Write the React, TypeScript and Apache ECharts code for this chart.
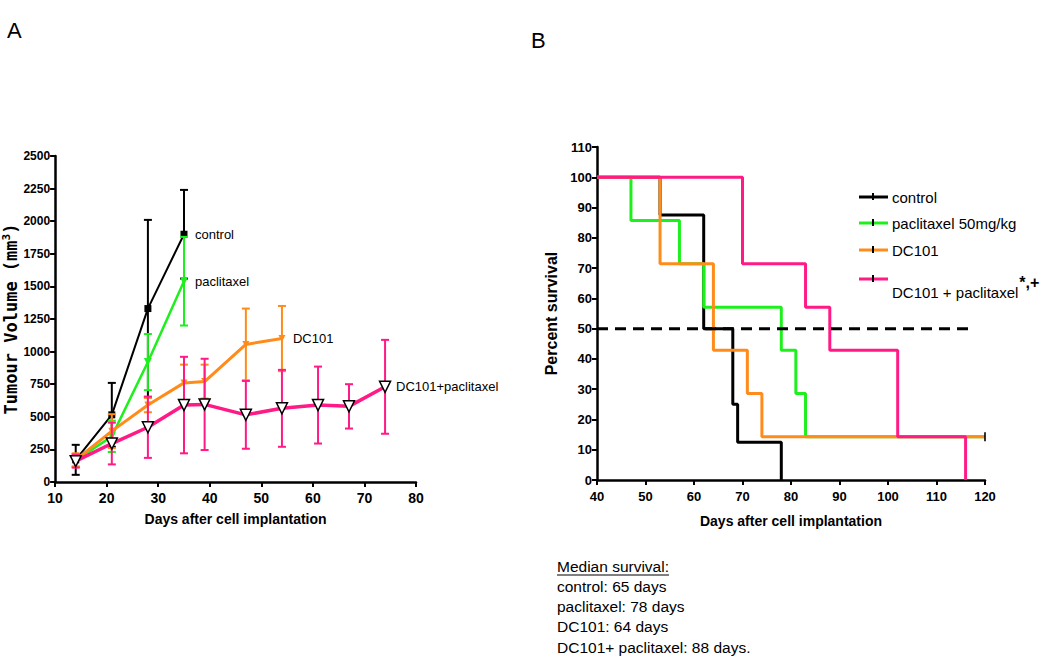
import React, { useEffect, useRef } from "react";
import * as echarts from "echarts";

// ---------- Panel A: tumour volume ----------
const controlDays = [14, 21, 28, 35];
const controlMean = [170, 515, 1330, 1900];
const controlSem = [115, 245, 680, 340];

const pacliDays = [14, 21, 28, 35];
const pacliMean = [165, 350, 920, 1540];
const pacliSem = [50, 120, 215, 340];

const dc101Days = [14, 21, 28, 35, 39, 47, 54];
const dc101Mean = [170, 390, 590, 760, 770, 1055, 1100];
const dc101Sem = [50, 130, 55, 140, 130, 275, 250];

const comboDays = [14, 21, 28, 35, 39, 47, 54, 61, 67, 74];
const comboMean = [160, 295, 420, 590, 595, 515, 565, 590, 580, 730];
const comboSem = [50, 160, 235, 370, 350, 260, 295, 295, 170, 360];

// ---------- Panel B: survival (Kaplan-Meier steps) ----------
const survControl = [[40, 100], [53, 87.5], [62, 50], [68, 25], [69, 12.5], [78, 0]];
const survPacli = [[40, 100], [47, 85.7], [57, 71.4], [62, 57.1], [78, 42.9], [81, 28.6], [83, 14.3], [120, 14.3]];
const survDc101 = [[40, 100], [53, 71.4], [64, 42.9], [71, 28.6], [74, 14.3], [120, 14.3]];
const survCombo = [[40, 100], [70, 71.4], [83, 57.1], [88, 42.9], [102, 14.3], [116, 0]];
const censored = [[120, 14.3]];
const medianLine = [[40, 50], [117, 50]];

const legendNames = ["control", "paclitaxel 50mg/kg", "DC101", "DC101 + paclitaxel"];
const legendSup = "*,+";
const medianTitle = "Median survival:";
const medianLines = [
  "control: 65 days",
  "paclitaxel: 78 days",
  "DC101: 64 days",
  "DC101+ paclitaxel: 88 days.",
];

const BLACK = "#000000";
const GREEN = "#1ef01e";
const ORANGE = "#ff8c1a";
const PINK = "#ff1a85";
const FONT = "Arial, 'Liberation Sans', Helvetica, sans-serif";

function measure(text: string, font: string): number {
  const c = document.createElement("canvas").getContext("2d");
  if (!c) return text.length * 8;
  c.font = font;
  return c.measureText(text).width;
}

function errSeries(days: number[], mean: number[], sem: number[], color: string, z: number) {
  return {
    type: "custom",
    xAxisIndex: 0,
    yAxisIndex: 0,
    z,
    silent: true,
    data: days.map((d, i) => [d, mean[i], sem[i]]),
    encode: { x: 0, y: 1 },
    renderItem: (_p: any, api: any) => {
      const x = api.value(0);
      const m = api.value(1);
      const s = api.value(2);
      const top = api.coord([x, m + s]);
      const bot = api.coord([x, Math.max(0, m - s)]);
      const hw = 4;
      const st = { stroke: color, lineWidth: 2 };
      return {
        type: "group",
        children: [
          { type: "line", shape: { x1: top[0], y1: top[1], x2: bot[0], y2: bot[1] }, style: st },
          { type: "line", shape: { x1: top[0] - hw, y1: top[1], x2: top[0] + hw, y2: top[1] }, style: st },
          { type: "line", shape: { x1: bot[0] - hw, y1: bot[1], x2: bot[0] + hw, y2: bot[1] }, style: st },
        ],
      };
    },
  };
}

function meanSeries(
  name: string, days: number[], mean: number[], color: string, width: number,
  symbol: string, size: number, rotate: number, fill: string, border: string, z: number
) {
  return {
    type: "line",
    name,
    xAxisIndex: 0,
    yAxisIndex: 0,
    z,
    data: days.map((d, i) => [d, mean[i]]),
    symbol,
    symbolSize: size,
    symbolRotate: rotate,
    showAllSymbol: true,
    lineStyle: { color, width },
    itemStyle: { color: fill, borderColor: border, borderWidth: border === fill ? 0 : 1.5 },
    endLabel: {
      show: true,
      formatter: name,
      distance: 11,
      color: "#000",
      fontSize: 13,
      fontFamily: FONT,
    },
  };
}

function survSeries(name: string, data: number[][], color: string, z: number) {
  return {
    type: "line",
    name,
    xAxisIndex: 1,
    yAxisIndex: 1,
    z,
    step: "end",
    symbol: "none",
    data,
    lineStyle: { color, width: 3 },
  };
}

const axisCommon = {
  axisLine: { show: true, lineStyle: { color: "#000", width: 2.5 } },
  axisTick: { show: true, inside: false, length: 5, lineStyle: { color: "#000", width: 2 } },
  splitLine: { show: false },
};

const plain = (v: number) => String(v);

export default function App() {
  const ref = useRef<HTMLDivElement>(null);
  useEffect(() => {
    if (!ref.current) return;
    const chart = echarts.init(ref.current, undefined, { renderer: "svg" });

    const legendFont = `15px ${FONT}`;
    const legendYs = [197, 223, 250, 279];
    const legendColors = [BLACK, GREEN, ORANGE, PINK];
    const legendGraphics: any[] = [];
    legendNames.forEach((n, i) => {
      const y = legendYs[i];
      legendGraphics.push({
        type: "line", shape: { x1: 859, y1: y, x2: 888, y2: y },
        style: { stroke: legendColors[i], lineWidth: 3 },
      });
      legendGraphics.push({
        type: "line", shape: { x1: 873, y1: y - 4, x2: 873, y2: y + 3 },
        style: { stroke: "#000", lineWidth: 2 },
      });
      legendGraphics.push({
        type: "text", x: 892, y: i === 3 ? 292 : y,
        style: { text: n, font: legendFont, fill: "#000", textVerticalAlign: "middle", textAlign: "left" },
      });
    });
    const lastW = measure(legendNames[3], legendFont);
    legendGraphics.push({
      type: "text", x: 892 + lastW + 1, y: 282,
      style: { text: legendSup, font: `bold 16px ${FONT}`, fill: "#000", textVerticalAlign: "middle", textAlign: "left" },
    });

    const medFont = `15.5px ${FONT}`;
    const titleW = measure(medianTitle, medFont);
    const medianGraphics: any[] = [
      {
        type: "text", x: 557, y: 566,
        style: { text: medianTitle, font: medFont, fill: "#000", textVerticalAlign: "middle" },
      },
      { type: "line", shape: { x1: 557, y1: 575, x2: 557 + titleW, y2: 575 }, style: { stroke: "#000", lineWidth: 1.2 } },
      ...medianLines.map((t, i) => ({
        type: "text", x: 557, y: 586.5 + i * 20.2,
        style: { text: t, font: medFont, fill: "#000", textVerticalAlign: "middle" },
      })),
    ];

    chart.setOption({
      animation: false,
      backgroundColor: "#fff",
      textStyle: { fontFamily: FONT },
      grid: [
        { left: 53, top: 156, width: 363, height: 326 },
        { left: 597, top: 147, width: 388, height: 333 },
      ],
      xAxis: [
        {
          type: "value", gridIndex: 0, min: 10, max: 80, interval: 10,
          ...axisCommon,
          axisLabel: { color: "#000", fontWeight: "bold", fontSize: 14, margin: 9, formatter: plain },
          name: "Days after cell implantation", nameLocation: "middle", nameGap: 30,
          nameTextStyle: { color: "#000", fontWeight: "bold", fontSize: 14 },
        },
        {
          type: "value", gridIndex: 1, min: 40, max: 120, interval: 10,
          ...axisCommon,
          axisLabel: { color: "#000", fontWeight: "bold", fontSize: 13, margin: 10, formatter: plain },
          name: "Days after cell implantation", nameLocation: "middle", nameGap: 34,
          nameTextStyle: { color: "#000", fontWeight: "bold", fontSize: 14 },
        },
      ],
      yAxis: [
        {
          type: "value", gridIndex: 0, min: 0, max: 2500, interval: 250,
          ...axisCommon,
          axisLabel: { color: "#000", fontWeight: "bold", fontSize: 12, margin: 5, formatter: plain },
          name: "Tumour Volume (mm{sup|3})", nameLocation: "middle", nameRotate: 90, nameGap: 27,
          nameTextStyle: {
            color: "#000", fontSize: 17, fontWeight: "bold", fontFamily: "'DejaVu Sans Mono', monospace",
            rich: { sup: { fontSize: 11, fontWeight: "bold", color: "#000", fontFamily: "'DejaVu Sans Mono', monospace", padding: [0, 0, 9, 0] } },
          },
        },
        {
          type: "value", gridIndex: 1, min: 0, max: 110, interval: 10,
          ...axisCommon,
          axisLabel: { color: "#000", fontWeight: "bold", fontSize: 13, margin: 5, formatter: plain },
          name: "Percent survival", nameLocation: "middle", nameRotate: 90, nameGap: 38,
          nameTextStyle: { color: "#000", fontWeight: "bold", fontSize: 16 },
        },
      ],
      series: [
        errSeries(controlDays, controlMean, controlSem, BLACK, 2),
        meanSeries("control", controlDays, controlMean, BLACK, 2, "rect", 7, 0, BLACK, BLACK, 3),
        errSeries(pacliDays, pacliMean, pacliSem, GREEN, 4),
        meanSeries("paclitaxel", pacliDays, pacliMean, GREEN, 2.5, "triangle", 8, 180, GREEN, GREEN, 5),
        errSeries(dc101Days, dc101Mean, dc101Sem, ORANGE, 6),
        meanSeries("DC101", dc101Days, dc101Mean, ORANGE, 3, "triangle", 7, 180, ORANGE, ORANGE, 7),
        errSeries(comboDays, comboMean, comboSem, PINK, 8),
        meanSeries("DC101+paclitaxel", comboDays, comboMean, PINK, 3.5, "triangle", 11, 180, "#fff", "#000", 9),

        survSeries("control ", survControl, BLACK, 2),
        survSeries("paclitaxel 50mg/kg", survPacli, GREEN, 3),
        survSeries("DC101 ", survDc101, ORANGE, 4),
        survSeries("DC101 + paclitaxel", survCombo, PINK, 5),
        {
          type: "line", xAxisIndex: 1, yAxisIndex: 1, z: 6, symbol: "none", data: medianLine,
          lineStyle: { color: "#000", width: 3, type: [11, 7] },
        },
        {
          type: "scatter", xAxisIndex: 1, yAxisIndex: 1, z: 7, data: censored,
          symbol: "rect", symbolSize: [2, 9], itemStyle: { color: "#000" },
        },
      ],
      graphic: [
        { type: "text", x: 7, y: 30, style: { text: "A", font: `22px ${FONT}`, fill: "#000", textVerticalAlign: "middle" } },
        { type: "text", x: 531, y: 40, style: { text: "B", font: `22px ${FONT}`, fill: "#000", textVerticalAlign: "middle" } },
        ...legendGraphics,
        ...medianGraphics,
      ],
    });
    return () => chart.dispose();
  }, []);
  return (
    <div
      ref={ref}
      style={{ position: "absolute", left: 0, top: 0, width: 1050, height: 657, background: "#fff" }}
    />
  );
}
